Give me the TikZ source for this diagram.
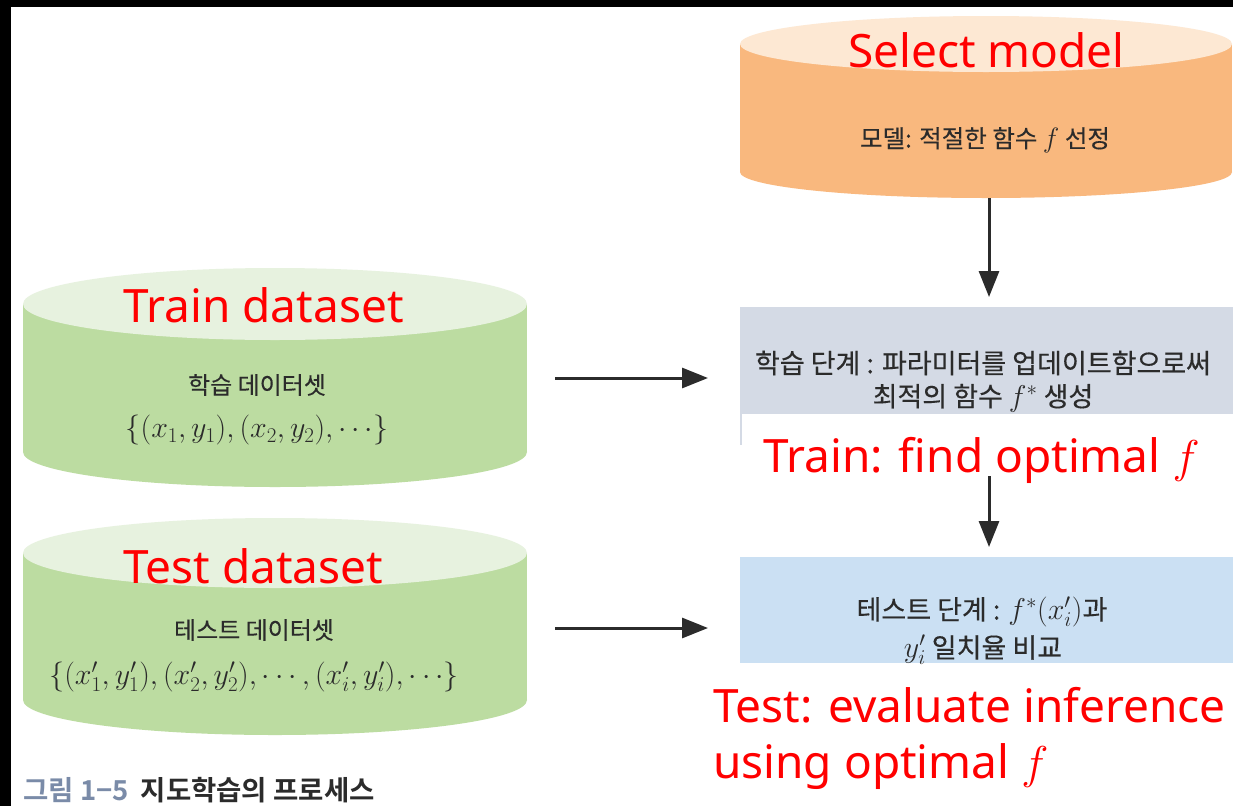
\RequirePackage{fix-cm}
\documentclass[tikz,border=0pt]{standalone}
\usepackage{fontspec}
\newfontfamily\kr[FakeBold=0.3]{Noto Sans CJK KR}
\newfontfamily\krb{Noto Sans CJK KR Bold}
\newfontfamily\rd{Noto Sans}
\usetikzlibrary{arrows.meta}
\definecolor{orbody}{HTML}{F9B87E}
\definecolor{ortop}{HTML}{FDE8D3}
\definecolor{grbody}{HTML}{BCDCA1}
\definecolor{grtop}{HTML}{E7F2DF}
\definecolor{trainbox}{HTML}{D4DAE5}
\definecolor{testbox}{HTML}{CBE0F3}
\definecolor{capblue}{HTML}{7A8BA8}
\definecolor{ink}{HTML}{2B2B2B}
\definecolor{redtxt}{HTML}{FF0000}
\begin{document}
\begin{tikzpicture}[x=1pt,y=-1pt,
  ghost/.style={inner sep=0pt, outer sep=0pt, minimum width=#1},
  krtxt/.style={text=ink, font=\kr\fontsize{24}{30}\selectfont, align=center, inner sep=0pt},
  boxtxt/.style={text=ink, font=\kr\fontsize{27}{32}\selectfont, align=center, inner sep=0pt},
  mathtxt/.style={text=ink, font=\fontsize{30}{34}\selectfont, inner sep=0pt},
  redlab/.style={text=redtxt, font=\rd\fontsize{46}{50}\selectfont, anchor=base west, inner sep=0pt},
  arr/.style={draw=ink, line width=3pt, -{Triangle[length=26pt,width=20pt]}}
]
\useasboundingbox (0,0) rectangle (1233,806);
\fill[white] (0,0) rectangle (1233,806);
% black frame edges
\fill[black] (0,0) rectangle (1233,7);
\fill[black] (0,0) rectangle (11,806);

% orange cylinder (model)
\fill[orbody] (986,172) ellipse[x radius=246, y radius=26];
\fill[orbody] (740,44) rectangle (1232,172);
\fill[ortop] (986,44) ellipse[x radius=246, y radius=28];
\node[ghost=492pt, minimum height=182pt] (model) at (989,107) {};

% green cylinder (train)
\fill[grbody] (275,452) ellipse[x radius=252, y radius=35];
\fill[grbody] (23,304) rectangle (527,452);
\fill[grtop] (275,304) ellipse[x radius=252, y radius=36];
\node[ghost=504pt, minimum height=220pt] (trainset) at (275,378) {};

% green cylinder (test)
\fill[grbody] (275,700) ellipse[x radius=252, y radius=35];
\fill[grbody] (23,553) rectangle (527,700);
\fill[grtop] (275,553) ellipse[x radius=252, y radius=35];
\node[ghost=504pt, minimum height=218pt] (testset) at (275,628) {};

% boxes
\fill[trainbox] (740,307) rectangle (1233,414);
\draw[trainbox, line width=1.5pt] (741,414) -- (741,445);
\node[ghost=493pt, minimum height=107pt] (train) at (986.5,360.5) {};
\fill[testbox] (740,557) rectangle (1233,663);
\node[ghost=493pt, minimum height=106pt] (test) at (986.5,610) {};

% red labels
\node[redlab] (selectlab) at (848,67) {Select model};
\node[redlab] (trainlab) at (123,322) {Train dataset};
\node[redlab] (testlab) at (123,583) {Test dataset};
\node[redlab] (trainf) at (763,472) {Train: find optimal $f$};
\node[redlab] (testf1) at (713,722) {Test: evaluate inference};
\node[redlab] (testf2) at (713,778) {using optimal $f$};

% black texts
\node[krtxt, font=\kr\fontsize{24.5}{30}\selectfont] (modeltxt) at (985,140) {모델: 적절한 함수 {\fontsize{28}{30}\selectfont$f$} 선정};
\node[krtxt] (traintxt1) at (257,385) {학습 데이터셋};
\node[mathtxt] (traintxt2) at (257,430) {$\{(x_1,y_1),(x_2,y_2),\cdots\}$};
\node[krtxt] (testtxt1) at (254,630) {테스트 데이터셋};
\node[mathtxt] (testtxt2) at (254,677) {$\{(x'_1,y'_1),(x'_2,y'_2),\cdots,(x'_i,y'_i),\cdots\}$};
\node[boxtxt] (trainbox1) at (983,363) {학습 단계 : 파라미터를 업데이트함으로써};
\node[boxtxt] (trainbox2) at (983,398) {최적의 함수 {\fontsize{30}{32}\selectfont$f^*$} 생성};
\node[boxtxt] (testbox1) at (982,612) {테스트 단계 : {\fontsize{30}{32}\selectfont$f^*(x'_i)$}과};
\node[boxtxt] (testbox2) at (983,650) {{\fontsize{30}{32}\selectfont$y'_i$} 일치율 비교};

% caption
\node[anchor=west, inner sep=0pt, font=\fontsize{27.5}{30}\selectfont] (caption) at (23,790)
  {{\krb\color{capblue}그림 1−5}\hspace{12pt}{\krb\color{ink}지도학습의 프로세스}};

% connectors
\draw[arr, shorten >=10pt] (model.south) -- (model.south |- train.north);
\draw[arr, shorten <=62pt, shorten >=10pt] (train.south -| model.south) -- (model.south |- test.north);
\draw[arr, shorten <=28pt, shorten >=32pt] (trainset.east) -- (train.west |- trainset.east);
\draw[arr, shorten <=28pt, shorten >=32pt] (testset.east) -- (test.west |- testset.east);
\end{tikzpicture}
\end{document}
